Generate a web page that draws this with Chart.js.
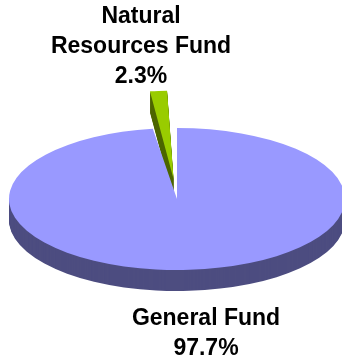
<!DOCTYPE html>
<html>
<head>
<meta charset="utf-8">
<script src="https://cdn.jsdelivr.net/npm/chart.js@4/dist/chart.umd.min.js"></script>
<style>
  html, body { margin: 0; padding: 0; background: #ffffff; }
  #wrap { position: relative; width: 342px; height: 361px; overflow: hidden; }
  #grafico { position: absolute; left: 0; top: 0; }
  .rotulo {
    position: absolute;
    width: 200px;
    text-align: center;
    font: bold 23px "Liberation Sans", Arial, sans-serif;
    line-height: 30px;
    color: #000000;
  }
  #rotulo0 { left: 106px; top: 302px; }
  #rotulo1 { left: 41px; top: 0px; }
</style>
</head>
<body>
<div id="wrap">
  <canvas id="grafico" width="342" height="361"></canvas>
  <div class="rotulo" id="rotulo0"></div>
  <div class="rotulo" id="rotulo1"></div>
</div>
<script>
// fundos e participacao (%)
const fundos = ["General Fund", "Natural Resources Fund"];
const linhasRotulo = [["General Fund"], ["Natural", "Resources Fund"]];
const percentuais = [97.7, 2.3];
const destaque = [0, 190];

const coresTopo = ["#9999FF", "#99CC00"];
const coresLado = ["#4D4D80", "#4D6600"];

// "3D": achata o pie na vertical e desenha a parede por baixo
const CENTRO_Y = 199;
const ACHATAMENTO = 71 / 168;
const PROFUNDIDADE = 21;

function achatar(ctx, arc) {
  ctx.translate(0, CENTRO_Y);
  ctx.scale(1, ACHATAMENTO);
  ctx.translate(0, -arc.y);
}

const pie3d = {
  id: "pie3d",
  beforeDatasetsDraw(chart) {
    const ctx = chart.ctx;
    const arcs = chart.getDatasetMeta(0).data;

    for (let d = PROFUNDIDADE; d >= 1; d--) {
      arcs.forEach((arc, i) => {
        ctx.save();
        // fatia sem destaque: so a metade da frente mostra parede
        if (!arc.options.offset) {
          ctx.beginPath();
          ctx.rect(0, CENTRO_Y, chart.width, chart.height);
          ctx.clip();
        }
        ctx.translate(0, d);
        achatar(ctx, arc);
        const opts = arc.options;
        arc.options = Object.assign({}, opts, { backgroundColor: coresLado[i] });
        arc.draw(ctx);
        arc.options = opts;
        ctx.restore();
      });
    }

    ctx.save();
    achatar(ctx, arcs[0]);
  },
  afterDatasetsDraw(chart) {
    chart.ctx.restore();
  }
};

const ctx = document.getElementById("grafico").getContext("2d");
new Chart(ctx, {
  type: "pie",
  data: {
    labels: fundos,
    datasets: [{
      data: percentuais,
      backgroundColor: coresTopo,
      borderWidth: 0,
      offset: destaque,
      radius: 168,
      clip: false
    }]
  },
  options: {
    responsive: false,
    animation: false,
    layout: { padding: { left: 12, right: 0, top: 0, bottom: 0 } },
    plugins: {
      legend: { display: false },
      tooltip: { enabled: false }
    }
  },
  plugins: [pie3d]
});

// rotulos com nome e percentual
fundos.forEach((nome, i) => {
  const el = document.getElementById("rotulo" + i);
  const linhas = linhasRotulo[i].concat([percentuais[i].toFixed(1) + "%"]);
  el.innerHTML = linhas.map(l => `<div>${l}</div>`).join("");
});
</script>
</body>
</html>
